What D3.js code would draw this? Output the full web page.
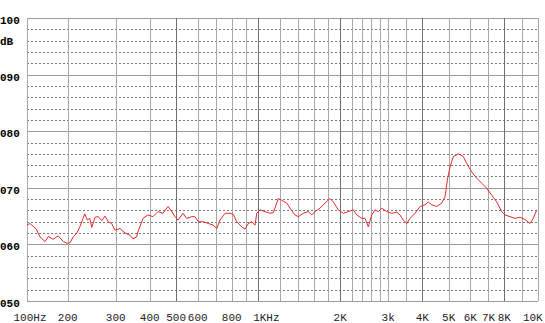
<!DOCTYPE html>
<html>
<head>
<meta charset="utf-8">
<script src="https://cdnjs.cloudflare.com/ajax/libs/d3/7.8.5/d3.min.js"></script>
<style>
    body { margin:0; background:#fff; }
    svg { display:block; }
</style>
</head>
<body>
<div class="response"></div>
<script>
// frequency response, Hz / dB
var freqHz = [100,105,111,117,125,136,144,156,170,186,197,204,210,216,222,231,236,241,245,252,
    259,267,274,282,290,298,311,325,339,347,358,362,378,394,411,429,447,467,482,495,
    508,530,547,570,586,603,629,656,684,705,724,756,788,811,834,870,895,920,947,974,
    988,1016,1059,1105,1136,1185,1220,1273,1309,1365,1404,1464,1527,1572,1616,1686,1759,1835,1887,1968,
    2053,2142,2234,2300,2398,2466,2536,2610,2684,2760,2841,2963,3090,3224,3314,3409,3508,3608,3764,3926,
    4095,4210,4333,4520,4715,4849,4944,5058,5200,5425,5658,5824,6075,6339,6612,6898,7194,7505,7828,8037,
    8310,8593,8885,9186,9498,9710,9933];
var levelDb = [63.4,63.7,63.2,62.7,61.3,60.5,61.4,60.9,61.5,60.5,60.2,60.3,61.4,62.0,63.2,65.4,64.3,64.6,63.0,64.8,
    64.9,64.2,65.0,64.0,63.7,62.5,62.8,62.0,61.6,61.0,61.3,62.2,64.6,65.2,64.9,65.8,65.5,66.7,65.8,64.9,
    64.3,65.5,64.6,64.9,64.9,64.0,64.0,63.7,63.4,62.8,64.3,65.5,65.5,65.3,64.0,63.1,62.7,63.7,64.0,63.4,
    65.5,66.1,65.8,65.5,65.6,68.1,67.8,67.3,66.4,65.2,64.9,65.5,65.8,65.2,65.8,66.4,67.3,68.1,67.5,66.1,
    65.5,65.8,66.1,65.2,64.6,64.6,63.1,65.2,66.1,65.8,66.4,65.8,65.5,65.7,65.2,64.3,63.7,64.6,65.5,66.7,
    67.0,67.5,67.0,66.7,67.3,68.4,71.4,73.7,75.5,76.0,75.5,74.3,72.8,71.7,70.8,69.9,68.7,67.5,65.8,65.2,
    64.9,64.6,64.8,64.4,63.7,64.6,66.1];

// grid
var gridHz = [100,200,300,400,500,600,700,800,900,1000,1200,1400,1600,1800,2000,2200,2400,2600,2800,3000,
    3500,4000,5000,6000,7000,8000,9000,10000];
var darkHz = [500,1000,2000,4000,8000];
var tickHz = [100,200,300,400,500,600,800,1000,2000,3000,4000,5000,6000,7000,8000,10000];
var tickLabels = ["100Hz","200","300","400","500","600","800","1KHz","2K","3k","4K","5K","6K","7K","8K","10K"];
var dbTicks = [50,60,70,80,90,100];
var dbLabels = ["050","060","070","080","090","100"];
var dbMinor = [52,54,56,58,62,64,66,68,72,74,76,78,82,84,86,88,92,94,96,98];

var width = 545, height = 323;
var margin = {left:27, top:18, right:7.3, bottom:22};

var svg = d3.select(".response").append("svg")
    .attr("width", width)
    .attr("height", height);

// instrument axis: log, first octave squeezed
var x = d3.scaleLog()
    .domain([100, 200, 8000, 10000])
    .range([margin.left, 67.7, 504.3, width - margin.right]);
var y = d3.scaleLinear()
    .domain([50, 100])
    .range([height - margin.bottom, margin.top]);

function px(v) { return Math.round(v) + 0.5; }

var grid = svg.append("g").attr("shape-rendering", "crispEdges");

// dotted 2 dB lines
grid.selectAll(".minor")
    .data(dbMinor)
    .enter().append("line")
    .attr("class", "minor")
    .attr("x1", x(100)).attr("x2", x(10000))
    .attr("y1", function(d){ return px(y(d)); })
    .attr("y2", function(d){ return px(y(d)); })
    .attr("stroke", "#7a7a7a")
    .attr("stroke-dasharray", "2,2");

// 10 dB lines
grid.selectAll(".major")
    .data(dbTicks)
    .enter().append("line")
    .attr("class", "major")
    .attr("x1", x(100)).attr("x2", x(10000))
    .attr("y1", function(d){ return px(y(d)); })
    .attr("y2", function(d){ return px(y(d)); })
    .attr("stroke", "#9a9a9a");

// frequency lines
grid.selectAll(".vline")
    .data(gridHz)
    .enter().append("line")
    .attr("class", "vline")
    .attr("x1", function(d){ return px(x(d)); })
    .attr("x2", function(d){ return px(x(d)); })
    .attr("y1", y(100)).attr("y2", y(50))
    .attr("stroke", function(d){ return darkHz.indexOf(d) >= 0 ? "#707070" : "#a8a8a8"; });

// curve
var line = d3.line()
    .x(function(d){ return x(d[0]); })
    .y(function(d){ return y(d[1]); });

svg.append("path")
    .datum(freqHz.map(function(f, i){ return [f, levelDb[i]]; }))
    .attr("d", line)
    .attr("fill", "none")
    .attr("stroke", "#e42a2a")
    .attr("stroke-width", 1);

// y labels
svg.selectAll(".dbl")
    .data(dbTicks)
    .enter().append("text")
    .attr("class", "dbl")
    .attr("x", 0)
    .attr("y", function(d){ return y(d) + 6; })
    .attr("font-family", "Liberation Mono, monospace")
    .attr("font-weight", "bold")
    .attr("font-size", 11)
    .attr("fill", "#000")
    .text(function(d, i){ return dbLabels[i]; });

svg.append("text")
    .attr("x", 0)
    .attr("y", y(96) + 4)
    .attr("font-family", "Liberation Mono, monospace")
    .attr("font-weight", "bold")
    .attr("font-size", 11)
    .text("dB");

// x labels
svg.selectAll(".hzl")
    .data(tickHz)
    .enter().append("text")
    .attr("class", "hzl")
    .attr("x", function(d, i){
        if (i === 0) return x(d) + 3;
        if (d === 1000) return x(d) - 5;
        if (d === 10000) return x(d) + 5;
        return x(d);
    })
    .attr("y", 320.5)
    .attr("text-anchor", function(d){
        if (d === 1000) return "start";
        if (d === 10000) return "end";
        return "middle";
    })
    .attr("font-family", "Liberation Mono, monospace")
    .attr("font-size", 11)
    .attr("fill", "#222")
    .text(function(d, i){ return tickLabels[i]; });
</script>
</body>
</html>
